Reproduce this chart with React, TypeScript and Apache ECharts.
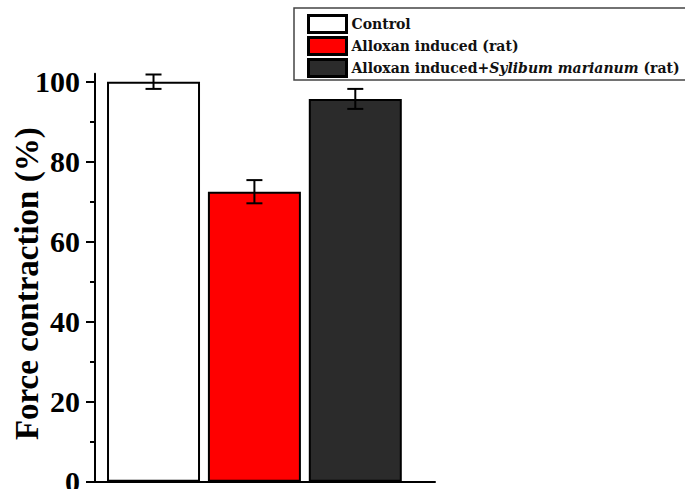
import React, { useEffect, useRef } from "react";
import * as echarts from "echarts";

// Groups, their mean force of contraction (%) and error (±)
const groups = ["Control", "Alloxan induced (rat)", "Alloxan induced+Sylibum marianum (rat)"];
const means = [100, 72.5, 95.7];
const errors = [1.8, 2.9, 2.5];
const positions = [1, 2, 3];
const fills = ["#ffffff", "#ff0000", "#2b2b2b"];
const yTicks = [0, 20, 40, 60, 80, 100];

const SERIF = "'Liberation Serif', 'Times New Roman', serif";
const LEGEND_FONT = "'DejaVu Serif', serif";

export default function App() {
  const ref = useRef<HTMLDivElement>(null);

  useEffect(() => {
    if (!ref.current) return;
    const chart = echarts.init(ref.current, undefined, { renderer: "svg" });

    const barSeries = groups.map((name, i) => ({
      name,
      type: "bar",
      barWidth: 93,
      barGap: "-100%",
      data: [[positions[i], means[i]]],
      itemStyle: { color: fills[i], borderColor: "#000", borderWidth: 2 },
      z: 2,
    }));

    const errSeries = {
      type: "custom",
      name: "err",
      z: 5,
      data: positions.map((p, i) => [p, means[i], errors[i]]),
      encode: { x: 0, y: 1 },
      renderItem: (params: any, api: any) => {
        const x = api.value(0);
        const m = api.value(1);
        const e = api.value(2);
        const top = api.coord([x, m + e]);
        const bot = api.coord([x, m - e]);
        const hw = 8;
        const style = { stroke: "#000", lineWidth: 2 };
        return {
          type: "group",
          children: [
            { type: "line", shape: { x1: top[0], y1: top[1], x2: bot[0], y2: bot[1] }, style },
            { type: "line", shape: { x1: top[0] - hw, y1: top[1], x2: top[0] + hw, y2: top[1] }, style },
            { type: "line", shape: { x1: bot[0] - hw, y1: bot[1], x2: bot[0] + hw, y2: bot[1] }, style },
          ],
        };
      },
    };

    chart.setOption({
      animation: false,
      backgroundColor: "#ffffff",
      grid: { left: 95, right: 250, top: 73.7, bottom: 7.3, outerBoundsMode: "none", containLabel: false },
      legend: {
        data: groups,
        orient: "vertical",
        left: 307,
        top: 14,
        padding: 0,
        itemWidth: 38,
        itemHeight: 17,
        itemGap: 2,
        icon: "rect",
        selectedMode: false,
        itemStyle: { borderWidth: 3, borderColor: "#000" },
        formatter: (name: string) => name.replace("Sylibum marianum", "{it|Sylibum marianum}"),
        textStyle: {
          fontFamily: LEGEND_FONT,
          fontWeight: "bold",
          fontSize: 14,
          lineHeight: 17,
          color: "#111",
          rich: {
            it: {
              fontFamily: LEGEND_FONT,
              fontWeight: "bold",
              fontStyle: "italic",
              fontSize: 14,
              lineHeight: 17,
              color: "#111",
            },
          },
        },
      },
      graphic: [
        {
          type: "rect",
          shape: { x: 294, y: 8, width: 400, height: 72 },
          style: { fill: "none", stroke: "#444", lineWidth: 1.5 },
          z: 1,
        },
      ],
      xAxis: {
        type: "value",
        min: 0.42,
        max: 3.79,
        axisLine: { show: true, lineStyle: { color: "#000", width: 2 } },
        axisTick: { show: false },
        axisLabel: { show: false },
        splitLine: { show: false },
      },
      yAxis: {
        type: "value",
        min: 0,
        max: 102,
        interval: 20,
        name: "Force contraction (%)",
        nameLocation: "middle",
        nameRotate: 90,
        nameGap: 52,
        nameMoveOverlap: false,
        nameTextStyle: {
          fontFamily: SERIF,
          fontWeight: "bold",
          fontSize: 33,
          color: "#000",
          padding: [0, 12, 0, 0],
        },
        axisLine: { show: true, lineStyle: { color: "#000", width: 2 } },
        axisTick: { show: true, inside: false, length: 9, lineStyle: { color: "#000", width: 2 }, customValues: yTicks },
        minorTick: { show: true, splitNumber: 2, length: 5, lineStyle: { color: "#000", width: 2 } },
        axisLabel: {
          margin: 15,
          fontFamily: SERIF,
          fontWeight: "bold",
          fontSize: 30,
          color: "#000",
          customValues: yTicks,
        },
        splitLine: { show: false },
        minorSplitLine: { show: false },
      },
      series: [...barSeries, errSeries],
    });

    return () => chart.dispose();
  }, []);

  return (
    <div
      ref={ref}
      style={{ position: "absolute", left: 0, top: 0, width: 685, height: 489 }}
    />
  );
}
